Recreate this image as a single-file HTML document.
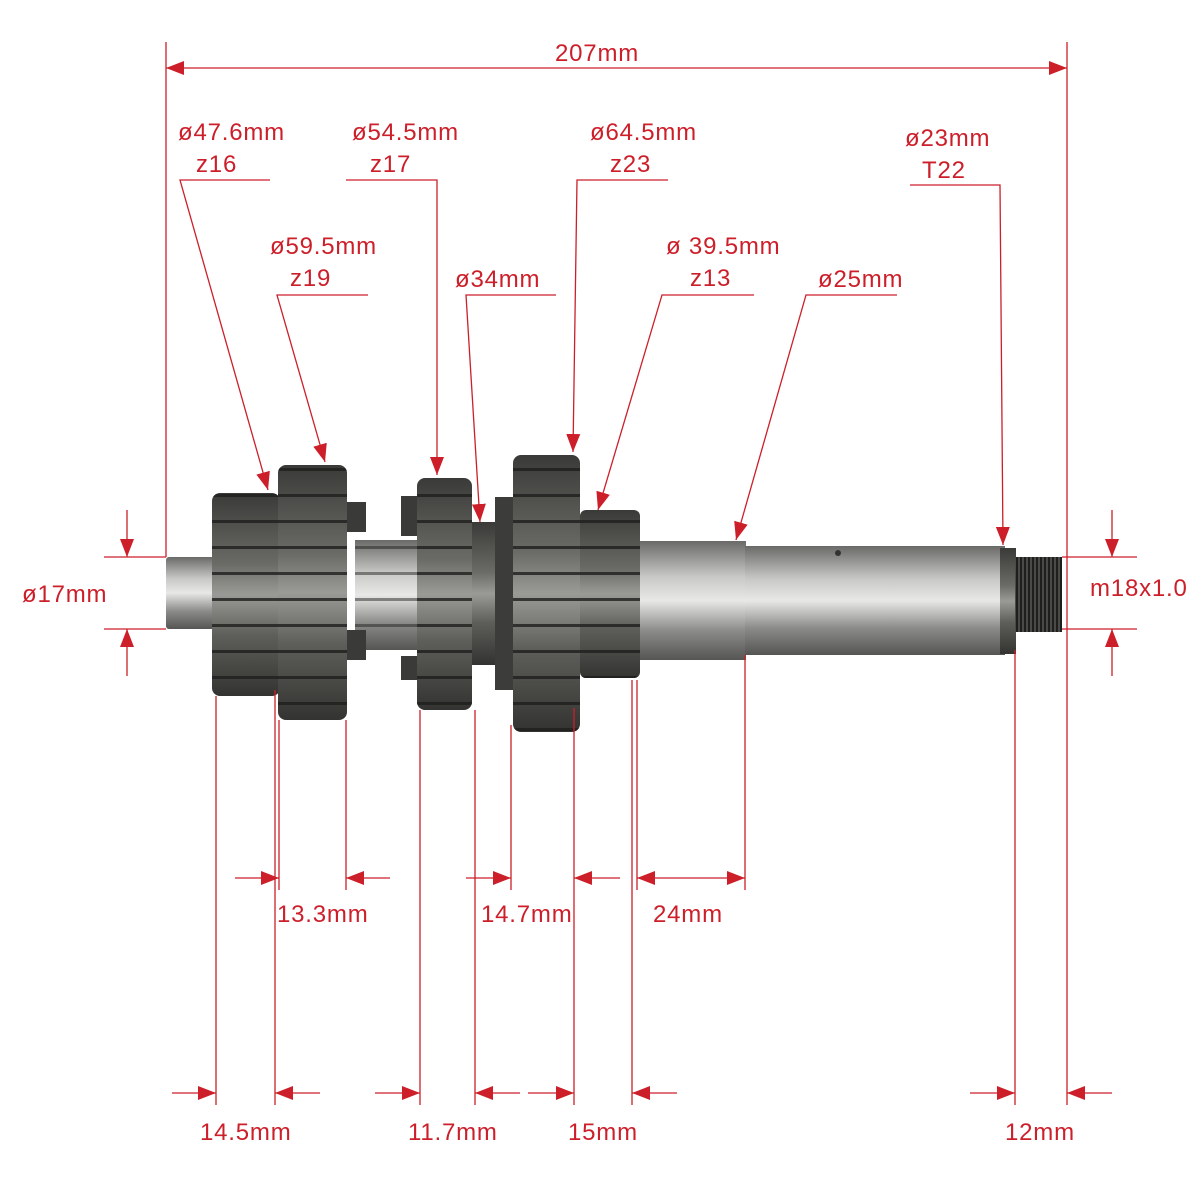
<!DOCTYPE html>
<html><head><meta charset="utf-8">
<style>
html,body{margin:0;padding:0;background:#fff;}
svg{display:block;}
text{font-family:"Liberation Sans",sans-serif;font-size:24px;letter-spacing:0.8px;fill:#cc1f2a;}
</style></head>
<body>
<svg width="1200" height="1200" viewBox="0 0 1200 1200" xmlns="http://www.w3.org/2000/svg">
<defs>
<marker id="a" markerWidth="18" markerHeight="14" refX="18" refY="7" orient="auto" markerUnits="userSpaceOnUse">
<path d="M0,0 L18,7 L0,14 z" fill="#cc1f2a"/></marker>
<linearGradient id="gv" x1="0" y1="0" x2="0" y2="1">
<stop offset="0" stop-color="#3a3a38"/><stop offset="0.35" stop-color="#6a6a66"/><stop offset="0.5" stop-color="#9a9a96"/><stop offset="0.7" stop-color="#5e5e5a"/><stop offset="1" stop-color="#333331"/></linearGradient>
<linearGradient id="sv" x1="0" y1="0" x2="0" y2="1">
<stop offset="0" stop-color="#6a6a68"/><stop offset="0.3" stop-color="#c8c8c6"/><stop offset="0.5" stop-color="#e8e8e6"/><stop offset="0.75" stop-color="#8c8c8a"/><stop offset="1" stop-color="#555553"/></linearGradient>
<pattern id="teeth" width="10" height="26" patternUnits="userSpaceOnUse">
<rect width="10" height="26" fill="none"/><rect y="0" width="10" height="3" fill="#1e1e1d" opacity="0.8"/></pattern>
<pattern id="thr" width="4" height="10" patternUnits="userSpaceOnUse">
<rect width="4" height="10" fill="#4a4a48"/><rect width="2" height="10" fill="#1f1f1e"/></pattern>
</defs>

<rect x="166" y="557" width="50" height="72" fill="url(#sv)" rx="3"/>
<rect x="640" y="541" width="106" height="119" fill="url(#sv)"/>
<rect x="745" y="546" width="260" height="109" fill="url(#sv)"/>
<rect x="1000" y="548" width="16" height="106" fill="url(#gv)"/>
<rect x="1015" y="557" width="47" height="75" fill="url(#thr)"/>
<rect x="355" y="540" width="65" height="110" fill="url(#sv)"/>
<rect x="355" y="540" width="65" height="110" fill="url(#teeth)" opacity="0.6"/>
<rect x="340" y="502" width="26" height="30" fill="#3a3a38"/>
<rect x="340" y="630" width="26" height="30" fill="#3a3a38"/>
<rect x="401" y="496" width="18" height="40" fill="#3a3a38"/>
<rect x="401" y="656" width="18" height="24" fill="#3a3a38"/>
<rect x="212" y="493" width="68" height="203" rx="8" fill="url(#gv)"/>
<rect x="212" y="493" width="68" height="203" rx="8" fill="url(#teeth)"/>
<rect x="278" y="465" width="69" height="255" rx="8" fill="url(#gv)"/>
<rect x="278" y="465" width="69" height="255" rx="8" fill="url(#teeth)"/>
<rect x="417" y="478" width="55" height="232" rx="8" fill="url(#gv)"/>
<rect x="417" y="478" width="55" height="232" rx="8" fill="url(#teeth)"/>
<rect x="472" y="522" width="24" height="143" fill="url(#gv)"/>
<rect x="495" y="497" width="20" height="193" fill="#3c3c3a"/>
<rect x="513" y="455" width="67" height="277" rx="8" fill="url(#gv)"/>
<rect x="513" y="455" width="67" height="277" rx="8" fill="url(#teeth)"/>
<rect x="580" y="510" width="60" height="168" rx="6" fill="url(#gv)"/>
<rect x="580" y="510" width="60" height="168" rx="6" fill="url(#teeth)"/>
<circle cx="838" cy="553" r="3" fill="#333"/>

<g stroke="#cc1f2a" stroke-width="1.3" fill="none">
<line x1="166" y1="42" x2="166" y2="557"/>
<line x1="1067" y1="42" x2="1067" y2="1105"/>
<line x1="600" y1="68" x2="166" y2="68" marker-end="url(#a)"/>
<line x1="600" y1="68" x2="1067" y2="68" marker-end="url(#a)"/>
<polyline points="270,180 180,180 268,490" marker-end="url(#a)"/>
<polyline points="368,295 277,295 325,462" marker-end="url(#a)"/>
<polyline points="346,180 437,180 437,475" marker-end="url(#a)"/>
<polyline points="556,295 466,295 480,522" marker-end="url(#a)"/>
<polyline points="668,180 577,180 573,452" marker-end="url(#a)"/>
<polyline points="754,295 662,295 598,510" marker-end="url(#a)"/>
<polyline points="897,295 806,295 736,540" marker-end="url(#a)"/>
<polyline points="910,185 1000,185 1003,545" marker-end="url(#a)"/>
<line x1="104" y1="557" x2="166" y2="557"/>
<line x1="104" y1="629" x2="166" y2="629"/>
<line x1="127" y1="510" x2="127" y2="557" marker-end="url(#a)"/>
<line x1="127" y1="676" x2="127" y2="629" marker-end="url(#a)"/>
<line x1="1062" y1="557" x2="1137" y2="557"/>
<line x1="1062" y1="629" x2="1137" y2="629"/>
<line x1="1112" y1="510" x2="1112" y2="557" marker-end="url(#a)"/>
<line x1="1112" y1="676" x2="1112" y2="629" marker-end="url(#a)"/>
<line x1="216" y1="696" x2="216" y2="1105"/>
<line x1="275" y1="690" x2="275" y2="1105"/>
<line x1="279" y1="720" x2="279" y2="890"/>
<line x1="346" y1="720" x2="346" y2="890"/>
<line x1="420" y1="710" x2="420" y2="1105"/>
<line x1="475" y1="710" x2="475" y2="1105"/>
<line x1="511" y1="725" x2="511" y2="890"/>
<line x1="574" y1="708" x2="574" y2="1105"/>
<line x1="632" y1="680" x2="632" y2="1105"/>
<line x1="637" y1="680" x2="637" y2="890"/>
<line x1="745" y1="655" x2="745" y2="890"/>
<line x1="1015" y1="650" x2="1015" y2="1105"/>
<line x1="235" y1="878" x2="279" y2="878" marker-end="url(#a)"/>
<line x1="390" y1="878" x2="346" y2="878" marker-end="url(#a)"/>
<line x1="466" y1="878" x2="511" y2="878" marker-end="url(#a)"/>
<line x1="620" y1="878" x2="574" y2="878" marker-end="url(#a)"/>
<line x1="690" y1="878" x2="637" y2="878" marker-end="url(#a)"/>
<line x1="690" y1="878" x2="745" y2="878" marker-end="url(#a)"/>
<line x1="172" y1="1093" x2="216" y2="1093" marker-end="url(#a)"/>
<line x1="320" y1="1093" x2="275" y2="1093" marker-end="url(#a)"/>
<line x1="375" y1="1093" x2="420" y2="1093" marker-end="url(#a)"/>
<line x1="520" y1="1093" x2="475" y2="1093" marker-end="url(#a)"/>
<line x1="528" y1="1093" x2="574" y2="1093" marker-end="url(#a)"/>
<line x1="677" y1="1093" x2="632" y2="1093" marker-end="url(#a)"/>
<line x1="970" y1="1093" x2="1015" y2="1093" marker-end="url(#a)"/>
<line x1="1112" y1="1093" x2="1067" y2="1093" marker-end="url(#a)"/>
</g>

<text x="555" y="61">207mm</text>
<text x="178" y="140">ø47.6mm</text>
<text x="196" y="172">z16</text>
<text x="352" y="140">ø54.5mm</text>
<text x="370" y="172">z17</text>
<text x="590" y="140">ø64.5mm</text>
<text x="610" y="172">z23</text>
<text x="905" y="146">ø23mm</text>
<text x="922" y="178">T22</text>
<text x="270" y="254">ø59.5mm</text>
<text x="290" y="286">z19</text>
<text x="666" y="254">ø 39.5mm</text>
<text x="690" y="286">z13</text>
<text x="455" y="287">ø34mm</text>
<text x="818" y="287">ø25mm</text>
<text x="22" y="602">ø17mm</text>
<text x="1090" y="596">m18x1.0</text>
<text x="277" y="922">13.3mm</text>
<text x="481" y="922">14.7mm</text>
<text x="653" y="922">24mm</text>
<text x="200" y="1140">14.5mm</text>
<text x="408" y="1140">11.7mm</text>
<text x="568" y="1140">15mm</text>
<text x="1005" y="1140">12mm</text>
</svg>
</body></html>
